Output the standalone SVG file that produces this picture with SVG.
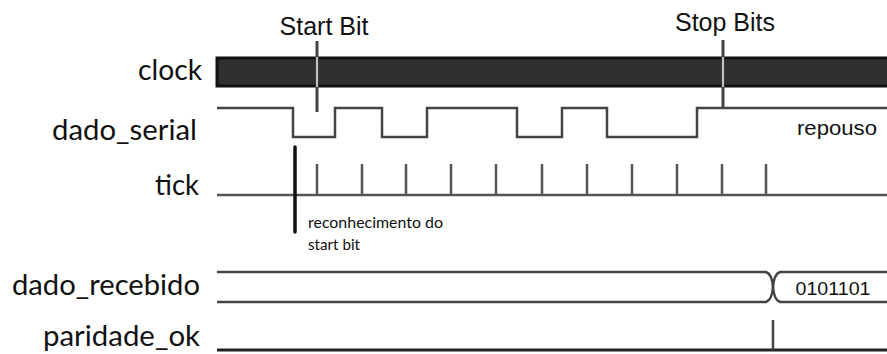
<svg xmlns="http://www.w3.org/2000/svg" width="887" height="354" viewBox="0 0 887 354">
<style>
.lbl{font-family:Lato,"Open Sans",sans-serif;font-size:28px;fill:#111;text-anchor:end}
.ann{font-family:"Liberation Sans",Arial,sans-serif;fill:#111}
.note{font-family:Lato,"Open Sans",sans-serif;font-size:15px;fill:#111}
.wave{fill:none;stroke:#444;stroke-width:2.5;stroke-linejoin:miter}
.tick{stroke:#555;stroke-width:2.5}
</style>
<rect width="887" height="354" fill="#fff"/>
<g id="labels">
<text class="lbl" x="202" y="80" textLength="64" lengthAdjust="spacingAndGlyphs">clock</text>
<text class="lbl" x="197" y="140" textLength="145" lengthAdjust="spacingAndGlyphs">dado_serial</text>
<text class="lbl" x="199" y="195" textLength="44" lengthAdjust="spacingAndGlyphs">tick</text>
<text class="lbl" x="200" y="295" textLength="188" lengthAdjust="spacingAndGlyphs">dado_recebido</text>
<text class="lbl" x="200" y="346" textLength="157" lengthAdjust="spacingAndGlyphs">paridade_ok</text>
</g>
<g id="clock">
<rect x="217" y="58" width="680" height="28" fill="#303030" stroke="#111" stroke-width="3"/>
</g>
<g id="dado_serial">
<path class="wave" d="M217,108 H293 V137 H335 V108 H382 V137 H427 V108 H517 V137 H562 V108 H607 V137 H697 V108 H887"/>
<text class="ann" x="877" y="135" font-size="21" text-anchor="end" textLength="80" lengthAdjust="spacingAndGlyphs">repouso</text>
</g>
<g id="tick">
<line class="tick" x1="217" y1="195" x2="887" y2="195"/>
<path class="tick" fill="none" d="M317,164V195 M362,164V195 M406,164V195 M451,164V195 M496,164V195 M542,164V195 M587,164V195 M632,164V195 M677,164V195 M722,164V195 M766,164V195"/>
</g>
<g id="start_bit">
<text class="ann" x="324" y="35" font-size="25" text-anchor="middle">Start Bit</text>
<line x1="317" y1="41" x2="317" y2="112" stroke="#444" stroke-width="3"/>
<line x1="317" y1="57" x2="317" y2="87" stroke="#eee" stroke-width="1.5"/>
</g>
<g id="stop_bits">
<text class="ann" x="725" y="31" font-size="25" text-anchor="middle">Stop Bits</text>
<line x1="723" y1="40" x2="723" y2="107" stroke="#444" stroke-width="3"/>
<line x1="723" y1="57" x2="723" y2="87" stroke="#eee" stroke-width="1.5"/>
</g>
<g id="reconhecimento">
<line x1="295" y1="147" x2="295" y2="232" stroke="#111" stroke-width="3.5" stroke-linecap="round"/>
<text class="note" x="308" y="228" textLength="135" lengthAdjust="spacingAndGlyphs">reconhecimento do</text>
<text class="note" x="308" y="250" textLength="52" lengthAdjust="spacingAndGlyphs">start bit</text>
</g>
<g id="dado_recebido">
<path class="wave" stroke="#555" stroke-width="3" d="M217,272 H766 Q772,274 773,287 Q772,300 766,302 H217"/>
<path class="wave" stroke="#555" stroke-width="3" d="M887,272 H780 Q774,274 773,287 Q774,300 780,302 H887"/>
<text class="ann" x="833" y="295" font-size="19" text-anchor="middle" textLength="75" lengthAdjust="spacingAndGlyphs">0101101</text>
</g>
<g id="paridade_ok">
<line x1="217" y1="350" x2="887" y2="350" stroke="#222" stroke-width="3"/>
<line x1="773" y1="320" x2="773" y2="350" stroke="#444" stroke-width="2.5"/>
</g>
</svg>
